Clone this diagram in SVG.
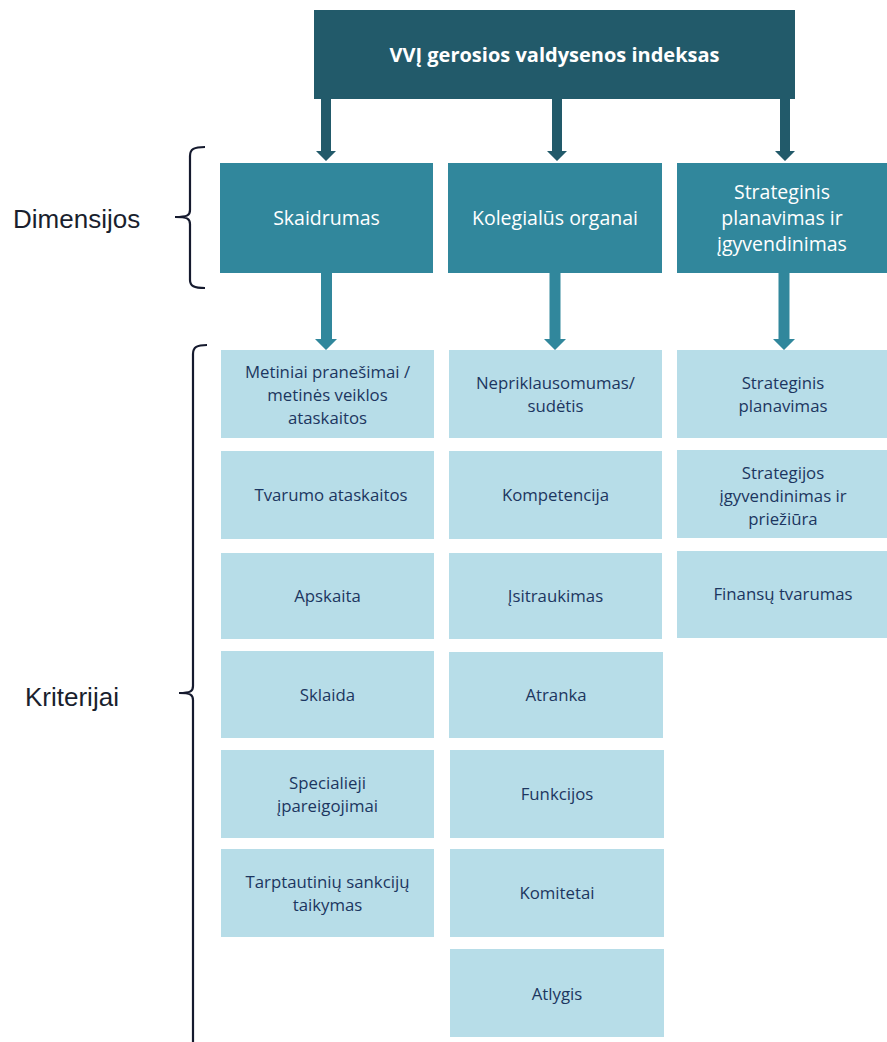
<svg xmlns="http://www.w3.org/2000/svg" width="887" height="1042" viewBox="0 0 887 1042">
<style>
.top{fill:#225a6a}
.dim{fill:#31879c}
.crit{fill:#b7dde8}
.tt{font-family:"Open Sans","Noto Sans",sans-serif;font-weight:bold;font-size:20px;fill:#fff;text-anchor:middle}
.dt{font-family:"Open Sans","Noto Sans",sans-serif;font-size:19.5px;fill:#fff;text-anchor:middle}
.ct{font-family:"Open Sans","Noto Sans",sans-serif;font-size:16.8px;fill:#1c3660;text-anchor:middle}
.lab{font-family:"Liberation Sans",Arial,sans-serif;font-size:26px;fill:#1a1f2e}
.br{fill:none;stroke:#151a2e;stroke-width:2.2}
</style>
<g id="connectors">
<polygon class="top" points="321,99 331,99 331,151 336,151 326,161 316,151 321,151"/>
<polygon class="top" points="552,99 562,99 562,151 567,151 557,161 547,151 552,151"/>
<polygon class="top" points="780,99 790,99 790,151 795,151 785,161 775,151 780,151"/>
<polygon class="dim" points="321,273 332,273 332,339 337,339 326,350 315,339 321,339"/>
<polygon class="dim" points="549.5,273 560.5,273 560.5,339 566,339 555,350 544,339 549.5,339"/>
<polygon class="dim" points="778.5,273 789.5,273 789.5,339 795,339 784,350 773,339 778.5,339"/>
</g>
<g id="brackets">
<path class="br" d="M205,147 C194,147 190,149 190,156 L190,210 C190,215 188,217 175,217 C188,217 190,219 190,224 L190,280 C190,286 194,288 205,288"/>
<path class="br" d="M207,345 C197,345 193,347 193,354 L193,686 C193,691 191,693 179,693 C191,693 193,695 193,700 L193,1050"/>
</g>
<text class="lab" x="13" y="228">Dimensijos</text>
<text class="lab" x="25" y="706">Kriterijai</text>
<g id="index">
<rect class="top" x="314" y="10" width="481" height="89"/>
<text class="tt" x="554.5" y="62">VVĮ gerosios valdysenos indeksas</text>
</g>
<g id="skaidrumas">
<rect class="dim" x="220" y="163" width="213" height="110"/>
<text class="dt" x="326.5" y="225">Skaidrumas</text>
</g>
<g id="kolegialus">
<rect class="dim" x="448" y="163" width="214" height="110"/>
<text class="dt" x="555" y="225">Kolegialūs organai</text>
</g>
<g id="strateginis">
<rect class="dim" x="677" y="163" width="210" height="110"/>
<text class="dt" x="782" y="199">Strateginis</text>
<text class="dt" x="782" y="225">planavimas ir</text>
<text class="dt" x="782" y="251">įgyvendinimas</text>
</g>
<g id="c1r1"><rect class="crit" x="221" y="350" width="213" height="88"/>
<text class="ct" x="327.5" y="378">Metiniai pranešimai /</text>
<text class="ct" x="327.5" y="401">metinės veiklos</text>
<text class="ct" x="327.5" y="424">ataskaitos</text></g>
<g id="c1r2"><rect class="crit" x="221" y="451" width="213" height="88"/>
<text class="ct" x="331" y="501">Tvarumo ataskaitos</text></g>
<g id="c1r3"><rect class="crit" x="221" y="553" width="213" height="86"/>
<text class="ct" x="327.5" y="602">Apskaita</text></g>
<g id="c1r4"><rect class="crit" x="221" y="651" width="213" height="87"/>
<text class="ct" x="327.5" y="701">Sklaida</text></g>
<g id="c1r5"><rect class="crit" x="221" y="750" width="213" height="88"/>
<text class="ct" x="327.5" y="789">Specialieji</text>
<text class="ct" x="327.5" y="812">įpareigojimai</text></g>
<g id="c1r6"><rect class="crit" x="221" y="849" width="213" height="88"/>
<text class="ct" x="327.5" y="888">Tarptautinių sankcijų</text>
<text class="ct" x="327.5" y="911">taikymas</text></g>
<g id="c2r1"><rect class="crit" x="449" y="350" width="213" height="88"/>
<text class="ct" x="555.5" y="389">Nepriklausomumas/</text>
<text class="ct" x="555.5" y="412">sudėtis</text></g>
<g id="c2r2"><rect class="crit" x="449" y="451" width="213" height="88"/>
<text class="ct" x="555.5" y="501">Kompetencija</text></g>
<g id="c2r3"><rect class="crit" x="449" y="553" width="213" height="86"/>
<text class="ct" x="555.5" y="602">Įsitraukimas</text></g>
<g id="c2r4"><rect class="crit" x="449" y="652" width="214" height="86"/>
<text class="ct" x="556" y="701">Atranka</text></g>
<g id="c2r5"><rect class="crit" x="450" y="750" width="214" height="88"/>
<text class="ct" x="557" y="800">Funkcijos</text></g>
<g id="c2r6"><rect class="crit" x="450" y="849" width="214" height="88"/>
<text class="ct" x="557" y="899">Komitetai</text></g>
<g id="c2r7"><rect class="crit" x="450" y="949" width="214" height="88"/>
<text class="ct" x="557" y="1000">Atlygis</text></g>
<g id="c3r1"><rect class="crit" x="677" y="350" width="210" height="88"/>
<text class="ct" x="783" y="389">Strateginis</text>
<text class="ct" x="783" y="412">planavimas</text></g>
<g id="c3r2"><rect class="crit" x="677" y="450" width="210" height="88"/>
<text class="ct" x="783" y="479">Strategijos</text>
<text class="ct" x="783" y="502">įgyvendinimas ir</text>
<text class="ct" x="783" y="525">priežiūra</text></g>
<g id="c3r3"><rect class="crit" x="677" y="551" width="210" height="87"/>
<text class="ct" x="783" y="600">Finansų tvarumas</text></g>
</svg>
